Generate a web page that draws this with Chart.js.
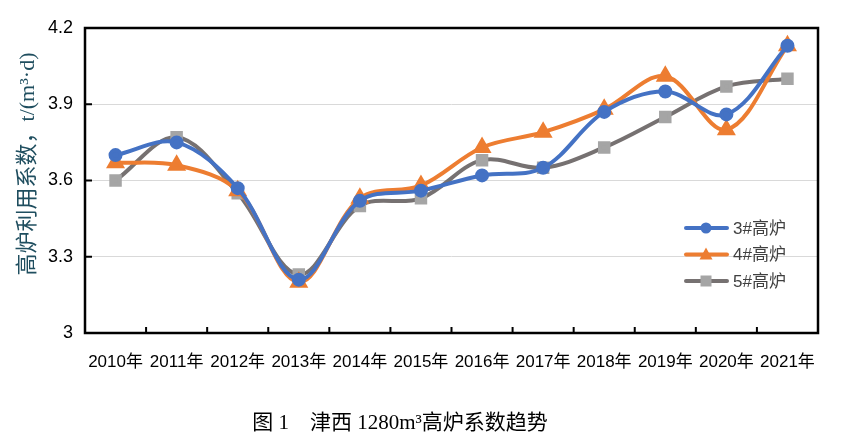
<!DOCTYPE html>
<html>
<head>
<meta charset="utf-8">
<script src="https://cdn.jsdelivr.net/npm/chart.js@4.4.1/dist/chart.umd.min.js"></script>
<style>
  body { margin: 0; background: #fff; }
  #wrap { position: relative; width: 844px; height: 439px; }
  #caption {
    position: absolute; left: 0; width: 800px; top: 405px; text-align: center;
    font-family: "Liberation Serif", "Noto Sans CJK SC", serif; font-size: 21px; color: #000;
  }
</style>
</head>
<body>
<div id="wrap">
  <canvas id="chart" width="844" height="439"></canvas>
  <div id="caption">图 1　津西 1280m³高炉系数趋势</div>
</div>
<script>
const years = ["2010年", "2011年", "2012年", "2013年", "2014年", "2015年", "2016年", "2017年", "2018年", "2019年", "2020年", "2021年"];
const furnace3 = [3.70, 3.75, 3.57, 3.21, 3.52, 3.56, 3.62, 3.65, 3.87, 3.95, 3.86, 4.13];
const furnace4 = [3.67, 3.66, 3.56, 3.20, 3.53, 3.58, 3.73, 3.79, 3.88, 4.01, 3.80, 4.13];
const furnace5 = [3.60, 3.77, 3.55, 3.23, 3.50, 3.53, 3.68, 3.65, 3.73, 3.85, 3.97, 4.00];
const yTicks = [3, 3.3, 3.6, 3.9, 4.2];
const yTitle = "高炉利用系数，t/(m³·d)";

// frame, inward ticks, y title and legend
const decor = {
  id: "decor",
  afterDatasetsDraw(chart) {
    const ctx = chart.ctx;
    const a = chart.chartArea;
    const x = chart.scales.x, y = chart.scales.y;
    ctx.save();
    ctx.strokeStyle = "#000";
    ctx.lineWidth = 2.5;
    ctx.strokeRect(a.left, a.top, a.right - a.left, a.bottom - a.top);
    ctx.lineWidth = 2;
    ctx.beginPath();
    for (let i = 1; i < years.length; i++) {
      const px = (x.getPixelForValue(i - 1) + x.getPixelForValue(i)) / 2;
      ctx.moveTo(px, a.bottom);
      ctx.lineTo(px, a.bottom - 6);
    }
    yTicks.forEach(v => {
      const py = y.getPixelForValue(v);
      ctx.moveTo(a.left, py);
      ctx.lineTo(a.left + 7, py);
    });
    ctx.stroke();

    // y axis title
    ctx.translate(28, 164);
    ctx.rotate(-Math.PI / 2);
    ctx.fillStyle = "#1F4E5F";
    ctx.font = '22px "Liberation Serif", "Noto Sans CJK SC", serif';
    ctx.textAlign = "center";
    ctx.textBaseline = "middle";
    ctx.fillText(yTitle, 0, 0);
    ctx.restore();

    // legend
    ctx.save();
    let ly = 228;
    chart.data.datasets.forEach(ds => {
      const lx = 686;
      ctx.strokeStyle = ds.borderColor;
      ctx.lineWidth = 4;
      ctx.lineCap = "round";
      ctx.beginPath();
      ctx.moveTo(lx, ly);
      ctx.lineTo(lx + 41, ly);
      ctx.stroke();
      const cx = lx + 20;
      ctx.fillStyle = ds.pointBackgroundColor;
      ctx.beginPath();
      if (ds.pointStyle === "circle") {
        ctx.arc(cx, ly, 5.5, 0, Math.PI * 2);
      } else if (ds.pointStyle === "triangle") {
        ctx.moveTo(cx, ly - 7);
        ctx.lineTo(cx + 6.5, ly + 5);
        ctx.lineTo(cx - 6.5, ly + 5);
        ctx.closePath();
      } else {
        ctx.rect(cx - 5.5, ly - 5.5, 11, 11);
      }
      ctx.fill();
      ctx.fillStyle = "#404040";
      ctx.font = '17px "Liberation Sans", "Noto Sans CJK SC", sans-serif';
      ctx.textBaseline = "middle";
      ctx.fillText(ds.label, lx + 47, ly + 1);
      ly += 26.5;
    });
    ctx.restore();
  }
};

new Chart(document.getElementById("chart"), {
  type: "line",
  data: {
    labels: years,
    datasets: [
      {
        label: "3#高炉", data: furnace3,
        borderColor: "#4472C4", pointBackgroundColor: "#4472C4", pointBorderColor: "#4472C4",
        pointStyle: "circle", pointRadius: 5, borderWidth: 4, tension: 0.35
      },
      {
        label: "4#高炉", data: furnace4,
        borderColor: "#ED7D31", pointBackgroundColor: "#ED7D31", pointBorderColor: "#ED7D31",
        pointStyle: "triangle", pointRadius: 7, borderWidth: 4, tension: 0.35
      },
      {
        label: "5#高炉", data: furnace5,
        borderColor: "#767171", pointBackgroundColor: "#A5A5A5", pointBorderColor: "#A5A5A5",
        pointStyle: "rect", pointRadius: 6, borderWidth: 4, tension: 0.35
      }
    ]
  },
  options: {
    responsive: false,
    animation: false,
    layout: { padding: { left: 0, right: 26, top: 28, bottom: 0 } },
    plugins: { legend: { display: false }, tooltip: { enabled: false } },
    scales: {
      x: {
        offset: true,
        grid: { display: false },
        border: { display: false },
        ticks: {
          color: "#000", padding: 11, maxRotation: 0, autoSkip: false,
          font: { family: '"Liberation Sans", "Noto Sans CJK SC", sans-serif', size: 17 }
        },
        afterFit(scale) { scale.height = 106; }
      },
      y: {
        min: 3, max: 4.2,
        afterBuildTicks(scale) { scale.ticks = yTicks.map(v => ({ value: v })); },
        grid: { color: "#D9D9D9", lineWidth: 1, drawTicks: false },
        border: { display: false },
        ticks: {
          color: "#000", padding: 12,
          font: { family: '"Liberation Sans", sans-serif', size: 18 },
          callback: v => String(v)
        },
        afterFit(scale) { scale.width = 85; }
      }
    }
  },
  plugins: [decor]
});
</script>
</body>
</html>
